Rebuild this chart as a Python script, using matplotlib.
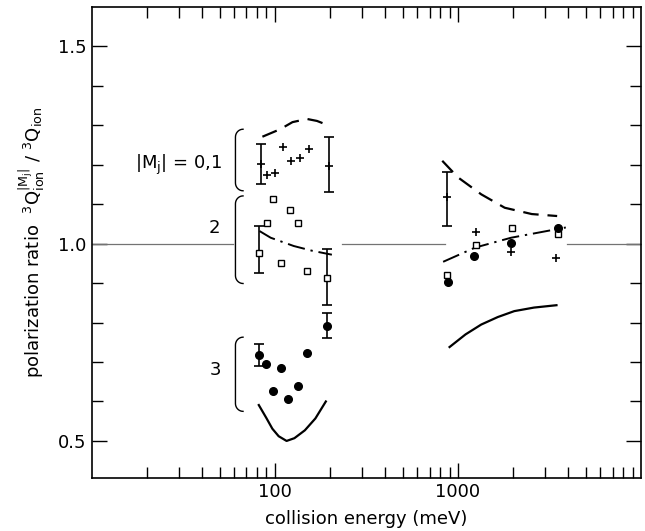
import matplotlib
matplotlib.use("Agg")
import matplotlib.pyplot as plt
import numpy as np

plt.rcParams['font.family'] = ['DejaVu Sans']
plt.rcParams['mathtext.default'] = 'regular'

# measured points: + = |Mj| 0,1 ; squares = 2 ; dots = 3
plus_x = [84, 91, 100, 111, 122, 137, 154, 197, 870, 1254, 1940, 3430]
plus_y = [1.202, 1.174, 1.180, 1.245, 1.21, 1.217, 1.24, 1.198, 1.118, 1.030, 0.980, 0.963]
sq_x = [82.5, 91, 97.7, 108.5, 121, 133.4, 150, 192, 870, 1262, 1980, 3500]
sq_y = [0.977, 1.052, 1.112, 0.951, 1.086, 1.053, 0.930, 0.913, 0.92, 0.996, 1.039, 1.025]
dot_x = [81.8, 89.5, 97.7, 108.5, 117.8, 133.4, 150, 192, 880, 1225, 1950, 3500]
dot_y = [0.718, 0.696, 0.627, 0.686, 0.606, 0.639, 0.724, 0.791, 0.904, 0.969, 1.001, 1.039]

# error bars (x, y, lower, upper)
err_x = [84, 197, 870, 82.5, 192, 81.8, 192]
err_y = [1.202, 1.198, 1.118, 0.977, 0.913, 0.718, 0.791]
err_lo = [1.151, 1.131, 1.045, 0.926, 0.844, 0.690, 0.761]
err_hi = [1.253, 1.271, 1.182, 1.046, 0.986, 0.745, 0.825]

# theory curves
dash_l_x = [85.6, 107, 125, 150, 170, 198]
dash_l_y = [1.271, 1.29, 1.308, 1.316, 1.311, 1.299]
dash_r_x = [821, 1000, 1340, 1800, 2530, 3480]
dash_r_y = [1.21, 1.168, 1.125, 1.091, 1.075, 1.070]
dd_l_x = [82.5, 95, 127, 160, 205]
dd_l_y = [1.032, 1.015, 0.994, 0.982, 0.972]
dd_r_x = [830, 1240, 1950, 3880]
dd_r_y = [0.954, 0.99, 1.015, 1.041]
sol_l_x = [81.8, 90, 97, 105, 116, 128, 146, 166.6, 190]
sol_l_y = [0.591, 0.558, 0.531, 0.512, 0.50, 0.507, 0.527, 0.557, 0.60]
sol_r_x = [900, 1100, 1340, 1650, 2030, 2600, 3450]
sol_r_y = [0.738, 0.770, 0.795, 0.814, 0.829, 0.838, 0.844]

# reference line at 1.0 (three pieces)
ref_x = [(10, 59), (234, 845), (3930, 10000)]

# braces: (x, y bottom, y top) and labels
braces = [(61, 1.134, 1.29), (61, 0.899, 1.121), (61, 0.575, 0.763)]
labels = ['|M$_j$| = 0,1', '2', '3']
label_x = [29.7, 46.8, 47.3]
label_y = [1.2, 1.04, 0.68]

fig = plt.figure(figsize=(6.45, 5.31), dpi=100)
ax = fig.add_axes([0.142, 0.099, 0.852, 0.888])
ax.set_xscale('log')
ax.set_xlim(10, 10000)
ax.set_ylim(0.405, 1.6)

for a, b in ref_x:
    ax.plot([a, b], [1.0, 1.0], color='0.45', lw=0.9)

ax.plot(dash_l_x, dash_l_y, color='k', lw=1.6, dashes=(7, 4))
ax.plot(dash_r_x, dash_r_y, color='k', lw=1.6, dashes=(7, 4))
ax.plot(dd_l_x, dd_l_y, color='k', lw=1.4, dashes=(9, 3, 1.2, 3))
ax.plot(dd_r_x, dd_r_y, color='k', lw=1.4, dashes=(9, 3, 1.2, 3))
ax.plot(sol_l_x, sol_l_y, color='k', lw=1.6)
ax.plot(sol_r_x, sol_r_y, color='k', lw=1.6)

ax.errorbar(err_x, err_y,
            yerr=[np.array(err_y) - np.array(err_lo), np.array(err_hi) - np.array(err_y)],
            fmt='none', ecolor='k', elinewidth=1.2, capsize=3.5, capthick=1.2)

ax.plot(plus_x, plus_y, '+', color='k', ms=6, mew=1.2)
ax.plot(sq_x, sq_y, 's', mfc='white', mec='k', ms=5, mew=1.0)
ax.plot(dot_x, dot_y, 'o', color='k', ms=5.5)

# curly brackets: straight stem with rounded hooks at both ends
t = np.linspace(0, np.pi / 2, 10)
ry = 0.02
for bx, y0, y1 in braces:
    top_x = bx * 1.10 ** (1 - np.sin(t))
    top_y = y1 - ry + ry * np.cos(t)
    bot_x = bx * 1.10 ** (1 - np.cos(t))
    bot_y = y0 + ry - ry * np.sin(t)
    ax.plot(np.concatenate([top_x, bot_x]), np.concatenate([top_y, bot_y]), color='k', lw=1.0)

for s, lx, ly in zip(labels, label_x, label_y):
    ax.text(lx, ly, s, ha='center', va='center', fontsize=13)

ax.set_yticks([0.5, 1.0, 1.5])
ax.set_yticklabels(['0.5', '1.0', '1.5'])
ax.set_yticks(np.arange(0.5, 1.55, 0.1), minor=True)
ax.set_xticks([100, 1000])
ax.set_xticklabels(['100', '1000'])
ax.tick_params(which='both', direction='in', top=True, right=True, labelsize=13, width=1.0)
ax.tick_params(which='major', length=11)
ax.tick_params(which='minor', length=8)
for sp in ax.spines.values():
    sp.set_linewidth(1.2)

ax.set_xlabel('collision energy (meV)', fontsize=13, labelpad=6)
ax.set_ylabel(r'polarization ratio  ${}^{3}Q_{ion}^{|M_j|}\ /\ {}^{3}Q_{ion}$', fontsize=13, labelpad=8)

fig.savefig('out.png', dpi=100)
